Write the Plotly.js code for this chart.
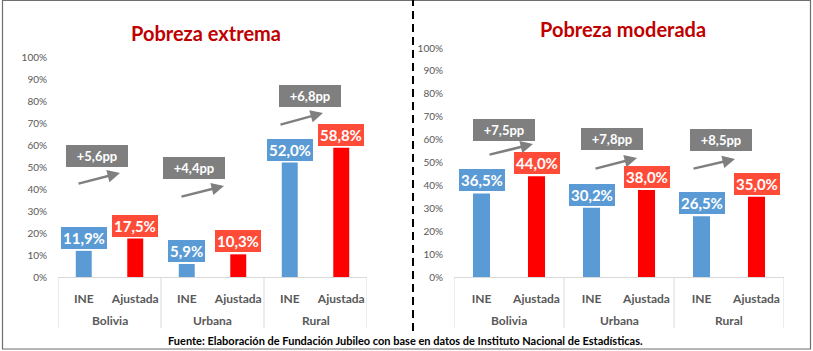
<!DOCTYPE html>
<html>
<head>
<meta charset="utf-8">
<script src="https://cdn.plot.ly/plotly-3.0.1.min.js"></script>
<style>html,body{margin:0;padding:0;background:#fff;}#chart{width:813px;height:351px;}</style>
</head>
<body>
<div id="chart"></div>
<script>
// ---- data ----
const groups = ["Bolivia", "Urbana", "Rural"];
const methods = ["INE", "Ajustada"];
const extremaINE = [11.9, 5.9, 52.0];
const extremaAjustada = [17.5, 10.3, 58.8];
const moderadaINE = [36.5, 30.2, 26.5];
const moderadaAjustada = [44.0, 38.0, 35.0];
const titles = ["Pobreza extrema", "Pobreza moderada"];
const yTicks = [0, 10, 20, 30, 40, 50, 60, 70, 80, 90, 100];
const source = "Fuente: Elaboración de Fundación Jubileo con base en datos de Instituto Nacional de Estadísticas.";

// ---- build ----
const W = 813, H = 351;
const px = x => x / W, py = y => 1 - y / H;
const FONT = "Lato, 'Open Sans', sans-serif";
const BLUE = "#5B9BD5", RED = "#FF0000", REDBOX = "#FF4C38", GRAY = "#7F7F7F", LBL = "#595959", DIV = "#D9D9D9";
const fmt = v => v.toFixed(1).replace('.', ',');

function build(ine, adj) {
  const pos = [], inner = [], vals = [], cols = [];
  groups.forEach((g, i) => {
    pos.push(2 * i, 2 * i + 1); inner.push(methods[0], methods[1]);
    vals.push(ine[i], adj[i]); cols.push(BLUE, RED);
  });
  return {pos, inner, vals, cols};
}
const d1 = build(extremaINE, extremaAjustada);
const d2 = build(moderadaINE, moderadaAjustada);

const traces = [
  {type: 'bar', x: d1.pos, y: d1.vals, width: 0.31, marker: {color: d1.cols}, xaxis: 'x', yaxis: 'y', hoverinfo: 'none'},
  {type: 'bar', x: d2.pos, y: d2.vals, width: 0.31, marker: {color: d2.cols}, xaxis: 'x2', yaxis: 'y2', hoverinfo: 'none'}
];

const annotations = [];
const shapes = [
  {type: 'rect', xref: 'paper', yref: 'paper', x0: px(2.5), x1: px(810.5), y0: py(349), y1: py(0.5), line: {color: '#6E6E6E', width: 1.2}},
  {type: 'line', xref: 'paper', yref: 'paper', x0: px(413), x1: px(413), y0: py(331), y1: py(0), line: {color: '#000', width: 2, dash: '8px,5px'}}
];
// value labels, group labels, dividers
[[d1, 'x', 'y'], [d2, 'x2', 'y2']].forEach(([d, xa, ya]) => {
  d.vals.forEach((v, i) => {
    annotations.push({
      xref: xa, yref: ya, x: d.pos[i], y: v,
      xanchor: 'center', yanchor: 'bottom', yshift: 2, showarrow: false,
      text: '<b>' + fmt(v) + '%</b>', font: {family: FONT, size: 15, color: '#fff'},
      bgcolor: i % 2 === 0 ? BLUE : REDBOX, bordercolor: i % 2 === 0 ? BLUE : REDBOX,
      borderwidth: 1, borderpad: 1
    });
  });
  groups.forEach((g, i) => {
    annotations.push({xref: xa, yref: 'paper', x: 2 * i + 0.5, y: py(320), xanchor: 'center', yanchor: 'middle',
      showarrow: false, text: '<b>' + g + '</b>', font: {family: FONT, size: 12, color: LBL}});
  });
  for (let k = 0; k <= groups.length; k++) {
    shapes.push({type: 'line', xref: xa, yref: 'paper', x0: 2 * k - 0.5, x1: 2 * k - 0.5, y0: py(277), y1: py(328),
      line: {color: DIV, width: 1}});
  }
});
// difference boxes and arrows
const diffs = extremaINE.map((v, i) => extremaAjustada[i] - v).concat(moderadaINE.map((v, i) => moderadaAjustada[i] - v));
const boxC = [[97, 156], [193.5, 168], [309.5, 96], [503.5, 130], [611.5, 138.5], [721, 140]];
const arrows = [[77, 184, 120, 173], [180, 197, 224, 186], [279, 125, 323, 113], [488, 155, 533, 144], [594, 169, 637, 158], [692, 169, 735, 159]];
diffs.forEach((dv, i) => {
  annotations.push({
    xref: 'paper', yref: 'paper', x: px(boxC[i][0]), y: py(boxC[i][1]), xanchor: 'center', yanchor: 'middle',
    showarrow: false, text: '<b>+' + fmt(dv) + 'pp</b>', font: {family: FONT, size: 13, color: '#fff'},
    bgcolor: GRAY, bordercolor: GRAY, borderwidth: 1, borderpad: 2, width: 56, height: 16
  });
  const a = arrows[i];
  annotations.push({
    xref: 'paper', yref: 'paper', x: px(a[2]), y: py(a[3]), ax: a[0] - a[2], ay: a[1] - a[3],
    showarrow: true, arrowhead: 2, arrowsize: 1, arrowwidth: 2.5, arrowcolor: GRAY, text: ''
  });
});
// titles
annotations.push({xref: 'paper', yref: 'paper', x: px(205.5), y: py(33), xanchor: 'center', yanchor: 'middle', showarrow: false,
  text: '<b>' + titles[0] + '</b>', font: {family: FONT, size: 20, color: '#C00000'}});
annotations.push({xref: 'paper', yref: 'paper', x: px(623), y: py(29), xanchor: 'center', yanchor: 'middle', showarrow: false,
  text: '<b>' + titles[1] + '</b>', font: {family: FONT, size: 20, color: '#C00000'}});
// source
annotations.push({xref: 'paper', yref: 'paper', x: px(405), y: py(340), xanchor: 'center', yanchor: 'middle', showarrow: false,
  text: '<b>' + source + '</b>', font: {family: FONT, size: 11, color: '#000'}});

const xcommon = {
  type: 'linear', range: [-0.5, 5.5], showline: true, linecolor: DIV, linewidth: 1, ticks: '', showgrid: false,
  zeroline: false, fixedrange: true, tickangle: 0, tickvals: d1.pos, ticktext: d1.inner, ticklabelstandoff: 11,
  tickfont: {family: FONT, size: 12, color: LBL, weight: 'bold'}
};
const ycommon = {
  range: [0, 100], tickvals: yTicks, ticktext: yTicks.map(t => t + '%'), showgrid: false, zeroline: false,
  showline: false, ticks: '', tickfont: {family: FONT, size: 10, color: LBL}, fixedrange: true,
  ticklabelstandoff: 10
};

const layout = {
  width: W, height: H, margin: {l: 0, r: 0, t: 0, b: 0}, paper_bgcolor: '#fff', plot_bgcolor: 'rgba(0,0,0,0)',
  showlegend: false, separators: ',.',
  xaxis: Object.assign({}, xcommon, {domain: [px(58), px(367)], anchor: 'y'}),
  yaxis: Object.assign({}, ycommon, {domain: [py(277), py(57)], anchor: 'x'}),
  xaxis2: Object.assign({}, xcommon, {domain: [px(454), px(784)], anchor: 'y2'}),
  yaxis2: Object.assign({}, ycommon, {domain: [py(277), py(48)], anchor: 'x2'}),
  shapes: shapes,
  annotations: annotations
};

Plotly.newPlot('chart', traces, layout, {displayModeBar: false, staticPlot: true});
</script>
</body>
</html>
